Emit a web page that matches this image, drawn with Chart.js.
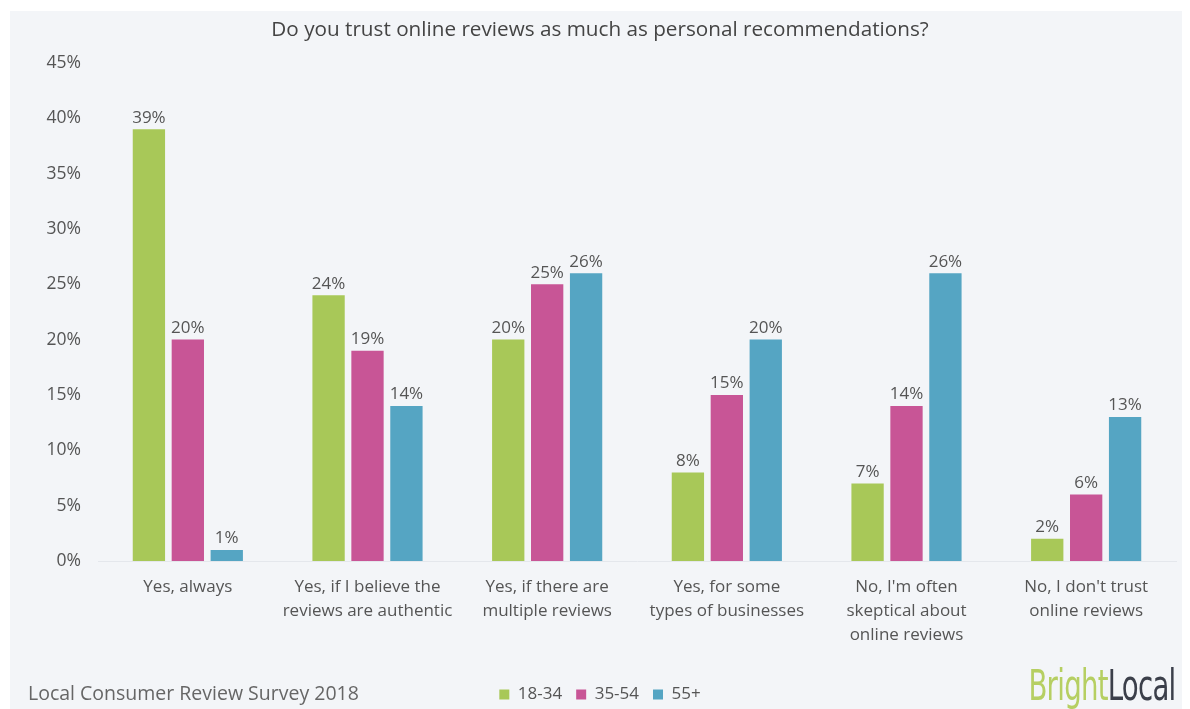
<!DOCTYPE html>
<html lang="en">
<head>
<meta charset="UTF-8">
<title>Online reviews vs personal recommendations</title>
<script src="https://cdn.jsdelivr.net/npm/chart.js"></script>
<style>
  html, body { margin: 0; padding: 0; background: #ffffff; overflow: hidden; }
  #wrap { position: relative; width: 1190px; height: 709px; overflow: hidden; }
  #panel { position: absolute; left: 10px; top: 11px; width: 1172px; height: 720px; background: #f3f5f8; }
  #chart { position: absolute; left: 0; top: 0; }
  .footer { position: absolute; font-family: "Open Sans", sans-serif; color: #666; font-size: 19.5px; line-height: 26px; }
  #survey { left: 28px; top: 680px; }
  #logo { right: 14px; top: 662px; font-family: "Liberation Sans Narrow", "DejaVu Sans Condensed", sans-serif; font-size: 42px; line-height: 48px; letter-spacing: -1px; transform: scaleX(0.73); transform-origin: right center; }
  #logo .b { color: #b6cf62; }
  #logo .l { color: #3b3f4a; }
</style>
</head>
<body>
<div id="wrap">
  <div id="panel"></div>
  <canvas id="chart" width="1190" height="713"></canvas>
  <div class="footer" id="survey">Local Consumer Review Survey 2018</div>
  <div class="footer" id="logo"><span class="b">Bright</span><span class="l">Local</span></div>
</div>
<script>
// survey answers, one group of bars per answer
const answers = [
  ["Yes, always"],
  ["Yes, if I believe the", "reviews are authentic"],
  ["Yes, if there are", "multiple reviews"],
  ["Yes, for some", "types of businesses"],
  ["No, I'm often", "skeptical about", "online reviews"],
  ["No, I don't trust", "online reviews"]
];
const ageGroups = ["18-34", "35-54", "55+"];
const young = [39, 24, 20, 8, 7, 2];
const middle = [20, 19, 25, 15, 14, 6];
const older = [1, 14, 26, 20, 26, 13];
const groupColors = ["#a8c858", "#c85596", "#55a5c3"];

const font = "'Open Sans', sans-serif";

// percentage above each bar
const valueLabels = {
  id: 'valueLabels',
  afterDatasetsDraw(chart) {
    const ctx = chart.ctx;
    ctx.save();
    ctx.font = "17px " + font;
    ctx.fillStyle = "#555";
    ctx.textAlign = "center";
    ctx.textBaseline = "bottom";
    chart.data.datasets.forEach((ds, i) => {
      chart.getDatasetMeta(i).data.forEach((bar, j) => {
        ctx.fillText(ds.data[j] + "%", bar.x, bar.y - 3);
      });
    });
    ctx.restore();
  }
};

new Chart(document.getElementById('chart'), {
  type: 'bar',
  data: {
    labels: answers,
    datasets: [
      { label: ageGroups[0], data: young, backgroundColor: groupColors[0] },
      { label: ageGroups[1], data: middle, backgroundColor: groupColors[1] },
      { label: ageGroups[2], data: older, backgroundColor: groupColors[2] }
    ]
  },
  options: {
    responsive: false,
    animation: false,
    layout: { padding: { left: 24, right: 14, top: 0, bottom: 0 } },
    datasets: { bar: { categoryPercentage: 0.65, barPercentage: 0.83 } },
    plugins: {
      title: {
        display: true,
        text: 'Do you trust online reviews as much as personal recommendations?',
        color: '#444',
        font: { family: font, size: 20.7, weight: 'normal' },
        padding: { top: 18, bottom: 20 }
      },
      legend: {
        position: 'bottom',
        labels: {
          color: '#555',
          font: { family: font, size: 17 },
          boxWidth: 10,
          boxHeight: 10,
          padding: 14
        }
      },
      tooltip: { enabled: false }
    },
    scales: {
      x: {
        grid: { display: false },
        border: { color: '#e4e7ec' },
        // extra room under the answer labels, before the legend
        afterFit(scale) { scale.height = 111; },
        ticks: {
          color: '#555',
          font: { family: font, size: 17, lineHeight: 1.41 },
          maxRotation: 0,
          padding: 6
        }
      },
      y: {
        min: 0,
        max: 45,
        grid: { display: false, drawTicks: false },
        border: { display: false },
        afterFit(scale) { scale.width = 74; },
        ticks: {
          stepSize: 5,
          padding: 17,
          color: '#555',
          font: { family: font, size: 17.5 },
          callback: v => v + '%'
        }
      }
    }
  },
  plugins: [valueLabels]
});
</script>
</body>
</html>
